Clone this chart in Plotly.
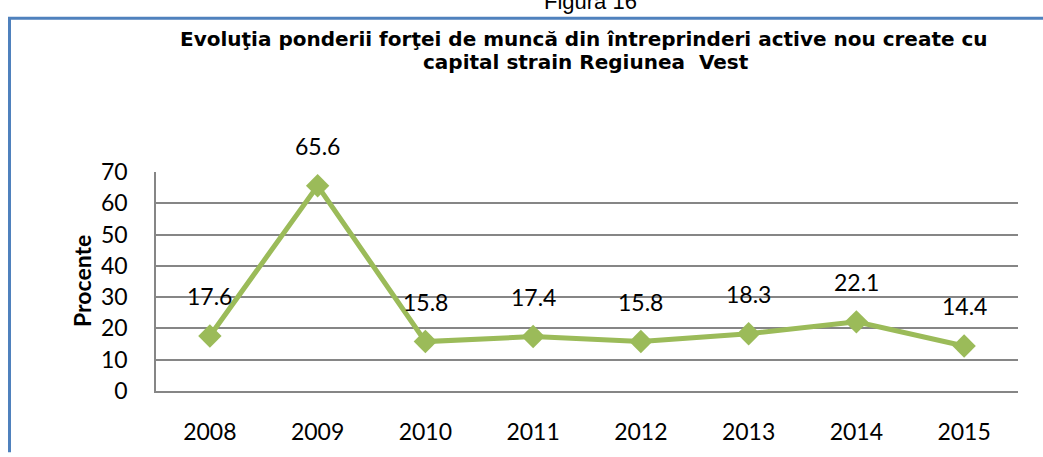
import plotly.graph_objects as go

years = [2008, 2009, 2010, 2011, 2012, 2013, 2014, 2015]
values = [17.6, 65.6, 15.8, 17.4, 15.8, 18.3, 22.1, 14.4]
y_ticks = [0, 10, 20, 30, 40, 50, 60, 70]

W, H = 1043, 457
L, R, T, B = 156, 1018, 172, 397
BODY = "Lato, Open Sans, sans-serif"
HEAD = "Liberation Sans, Arial, sans-serif"
TITLE = "DejaVu Sans, Liberation Sans, sans-serif"

fig = go.Figure()
fig.add_trace(go.Scatter(
    x=years, y=values, mode="lines+markers",
    line=dict(color="#9BBB59", width=5),
    marker=dict(symbol="diamond", size=18, color="#9BBB59"),
    showlegend=False,
))

for x, v in zip(years, values):
    fig.add_annotation(x=x, y=v, xref="x", yref="y", text=f"{v:.1f}", showarrow=False,
                       xanchor="center", yanchor="middle", yshift=40,
                       font=dict(family=BODY, size=23, color="#000"))

def px(xp):
    return (xp - L) / (R - L)

def py(yp):
    return (B - yp) / (B - T)

# blue frame
fig.add_shape(type="line", xref="paper", yref="paper", x0=px(9.5), x1=px(9.5), y0=py(14), y1=py(460),
              line=dict(color="#4F81BD", width=3))
fig.add_shape(type="line", xref="paper", yref="paper", x0=px(8), x1=px(1045), y0=py(14), y1=py(14),
              line=dict(color="#4F81BD", width=3))

fig.add_annotation(xref="paper", yref="paper", x=px(590), y=py(-3), text="Figura 16", showarrow=False,
                   xanchor="center", yanchor="middle",
                   font=dict(family=HEAD, size=22, color="#000"))
fig.add_annotation(xref="paper", yref="paper", x=px(584), y=py(35),
                   text="<b>Evoluţia ponderii forţei de muncă din întreprinderi active nou create cu</b>",
                   showarrow=False, xanchor="center", yanchor="middle",
                   font=dict(family=TITLE, size=20, color="#000"))
fig.add_annotation(xref="paper", yref="paper", x=px(586), y=py(59),
                   text="<b>capital strain Regiunea  Vest</b>",
                   showarrow=False, xanchor="center", yanchor="middle",
                   font=dict(family=TITLE, size=20, color="#000"))
fig.add_annotation(xref="paper", yref="paper", x=px(82), y=py(284), text="<b>Procente</b>",
                   textangle=-90, showarrow=False, xanchor="center", yanchor="middle",
                   font=dict(family=BODY, size=23, color="#000"))

fig.update_layout(
    width=W, height=H,
    margin=dict(l=L, r=W - R, t=T, b=H - B, pad=0),
    plot_bgcolor="white", paper_bgcolor="white",
    font=dict(family=BODY, size=23, color="#000"),
    xaxis=dict(range=[2007.5, 2015.5], tickvals=years, ticktext=[str(y) for y in years],
               showgrid=False, showline=True, linecolor="#868686", linewidth=1.5,
               ticks="", ticklabelstandoff=20, zeroline=False),
    yaxis=dict(range=[0, 70], tickvals=y_ticks, showgrid=True, gridcolor="#868686", gridwidth=1.5,
               showline=True, linecolor="#868686", linewidth=1.5, ticks="", ticklabelstandoff=22,
               zeroline=False),
)

fig.write_html("out.html", config={"displayModeBar": False},
               post_script="document.body.style.margin='0';document.body.style.padding='0';document.body.style.overflow='hidden';")
